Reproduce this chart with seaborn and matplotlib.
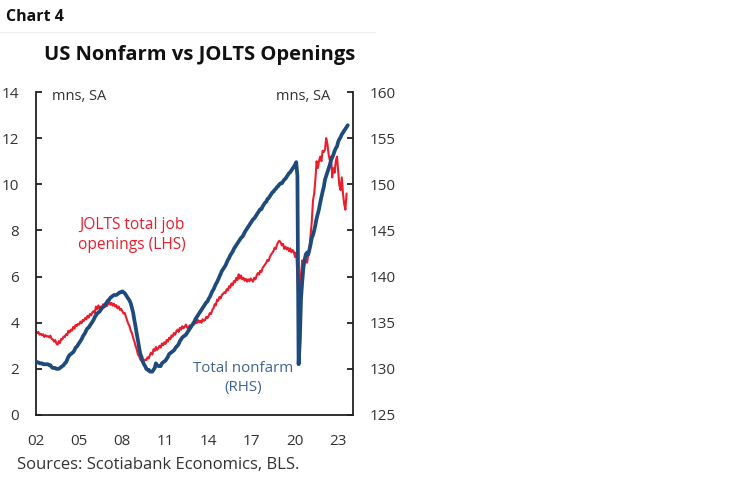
import matplotlib
matplotlib.use("Agg")
import matplotlib.pyplot as plt
import numpy as np
import pandas as pd
import seaborn as sns
from matplotlib.lines import Line2D

sns.set_style("white")
plt.rcParams['font.family'] = ['Open Sans', 'DejaVu Sans']

# --- datos (millones, mensual) ---
anios = list(range(2002, 2024))

nonfarm = {
    2002: [130.8, 130.7, 130.7, 130.6, 130.6, 130.6, 130.5, 130.5, 130.5, 130.5, 130.5, 130.4],
    2003: [130.4, 130.2, 130.1, 130.1, 130.1, 130.0, 130.0, 130.0, 130.1, 130.2, 130.3, 130.4],
    2004: [130.6, 130.7, 131.0, 131.3, 131.5, 131.6, 131.7, 131.8, 132.0, 132.3, 132.4, 132.6],
    2005: [132.8, 133.0, 133.2, 133.5, 133.7, 133.9, 134.2, 134.4, 134.5, 134.7, 134.9, 135.1],
    2006: [135.3, 135.6, 135.8, 136.0, 136.1, 136.2, 136.4, 136.6, 136.7, 136.8, 137.0, 137.2],
    2007: [137.4, 137.5, 137.7, 137.8, 137.9, 138.0, 138.0, 138.0, 138.1, 138.2, 138.3, 138.3],
    2008: [138.4, 138.3, 138.2, 138.0, 137.8, 137.6, 137.4, 137.1, 136.6, 136.1, 135.3, 134.6],
    2009: [133.8, 133.1, 132.3, 131.6, 131.3, 130.8, 130.5, 130.3, 130.0, 129.9, 129.9, 129.7],
    2010: [129.7, 129.7, 129.9, 130.1, 130.6, 130.4, 130.3, 130.3, 130.3, 130.6, 130.7, 130.8],
    2011: [130.9, 131.1, 131.3, 131.6, 131.7, 131.8, 131.9, 132.0, 132.2, 132.4, 132.5, 132.7],
    2012: [133.0, 133.2, 133.4, 133.5, 133.6, 133.7, 133.9, 134.1, 134.3, 134.5, 134.7, 134.9],
    2013: [135.1, 135.4, 135.6, 135.8, 136.0, 136.2, 136.4, 136.6, 136.8, 137.0, 137.2, 137.3],
    2014: [137.6, 137.8, 138.1, 138.4, 138.6, 138.9, 139.2, 139.4, 139.7, 140.0, 140.3, 140.6],
    2015: [140.8, 141.0, 141.2, 141.5, 141.8, 142.0, 142.3, 142.5, 142.7, 143.0, 143.2, 143.4],
    2016: [143.6, 143.8, 144.0, 144.2, 144.3, 144.5, 144.8, 145.0, 145.2, 145.4, 145.6, 145.8],
    2017: [146.0, 146.2, 146.3, 146.5, 146.7, 146.9, 147.1, 147.3, 147.3, 147.6, 147.8, 148.0],
    2018: [148.1, 148.4, 148.5, 148.7, 148.9, 149.1, 149.2, 149.4, 149.5, 149.7, 149.8, 150.0],
    2019: [150.1, 150.1, 150.3, 150.5, 150.6, 150.8, 151.0, 151.2, 151.3, 151.5, 151.7, 151.9],
    2020: [152.1, 152.4, 150.9, 130.5, 133.0, 137.6, 139.4, 141.0, 141.8, 142.4, 142.6, 142.4],
    2021: [142.9, 143.5, 144.2, 144.5, 145.0, 145.6, 146.3, 146.8, 147.3, 148.0, 148.6, 149.2],
    2022: [149.7, 150.5, 150.9, 151.3, 151.7, 152.1, 152.6, 152.9, 153.2, 153.6, 153.9, 154.1],
    2023: [154.6, 154.9, 155.1, 155.4, 155.6, 155.8, 156.0, 156.2, 156.4],
}

jolts = {
    2002: [3.62, 3.55, 3.60, 3.48, 3.52, 3.45, 3.50, 3.38, 3.46, 3.40, 3.42, 3.36],
    2003: [3.44, 3.30, 3.28, 3.18, 3.25, 3.10, 3.05, 3.20, 3.12, 3.30, 3.28, 3.40],
    2004: [3.38, 3.50, 3.46, 3.65, 3.58, 3.70, 3.66, 3.82, 3.74, 3.90, 3.86, 3.95],
    2005: [3.92, 4.05, 3.98, 4.12, 4.08, 4.20, 4.15, 4.30, 4.22, 4.38, 4.32, 4.45],
    2006: [4.50, 4.42, 4.70, 4.58, 4.75, 4.62, 4.70, 4.66, 4.80, 4.68, 4.85, 4.72],
    2007: [4.80, 4.92, 4.78, 4.86, 4.74, 4.82, 4.70, 4.76, 4.62, 4.70, 4.56, 4.60],
    2008: [4.50, 4.40, 4.42, 4.25, 4.10, 3.95, 3.85, 3.65, 3.55, 3.35, 3.20, 3.00],
    2009: [2.85, 2.62, 2.55, 2.40, 2.35, 2.28, 2.32, 2.40, 2.38, 2.50, 2.45, 2.60],
    2010: [2.70, 2.62, 2.85, 2.78, 2.95, 2.82, 2.90, 3.00, 2.92, 3.10, 3.02, 3.15],
    2011: [3.08, 3.25, 3.18, 3.35, 3.28, 3.45, 3.40, 3.55, 3.48, 3.62, 3.70, 3.60],
    2012: [3.78, 3.70, 3.85, 3.76, 3.82, 3.92, 3.80, 3.74, 3.88, 3.80, 3.86, 3.95],
    2013: [3.92, 4.05, 3.98, 4.12, 4.02, 4.08, 4.00, 4.15, 4.08, 4.12, 4.25, 4.20],
    2014: [4.30, 4.42, 4.38, 4.55, 4.62, 4.80, 4.75, 5.00, 4.95, 5.12, 5.05, 5.20],
    2015: [5.25, 5.32, 5.28, 5.45, 5.40, 5.58, 5.52, 5.70, 5.62, 5.80, 5.75, 5.95],
    2016: [5.85, 6.10, 5.92, 6.05, 5.88, 5.95, 5.82, 5.90, 5.78, 5.88, 5.80, 5.92],
    2017: [5.85, 5.78, 5.95, 5.88, 6.05, 6.15, 6.08, 6.25, 6.20, 6.38, 6.45, 6.52],
    2018: [6.60, 6.72, 6.68, 6.85, 6.95, 7.02, 7.10, 7.25, 7.20, 7.38, 7.50, 7.55],
    2019: [7.48, 7.35, 7.42, 7.20, 7.30, 7.18, 7.25, 7.10, 7.22, 7.05, 7.15, 7.08],
    2020: [6.85, 7.05, 6.00, 4.80, 5.50, 6.10, 6.70, 6.50, 6.60, 6.75, 6.60, 6.90],
    2021: [7.20, 7.80, 8.40, 9.30, 9.60, 10.20, 11.00, 10.70, 11.00, 11.20, 11.00, 11.45],
    2022: [11.40, 11.50, 12.00, 11.75, 11.30, 11.05, 11.20, 10.30, 10.70, 10.50, 11.00, 11.20],
    2023: [10.55, 9.95, 9.75, 10.30, 9.60, 9.15, 8.90, 9.60],
}

etiquetas_x = ['02', '05', '08', '11', '14', '17', '20', '23']
ticks_izq = [0, 2, 4, 6, 8, 10, 12, 14]
ticks_der = [125, 130, 135, 140, 145, 150, 155, 160]

ROJO = '#EC1C2B'
AZUL = '#1F4A7C'
TEXTO = '#333333'


def a_tabla(serie):
    filas = []
    for anio, valores in serie.items():
        for i, v in enumerate(valores):
            filas.append({'fecha': anio + i / 12.0, 'valor': v})
    return pd.DataFrame(filas)


df_nf = a_tabla(nonfarm)
df_jo = a_tabla(jolts)

W, H = 750, 482
fig = plt.figure(figsize=(W / 100, H / 100), dpi=100)
ax = fig.add_axes([36 / W, 1 - 415 / H, (353 - 36) / W, (415 - 92) / H])
ax2 = ax.twinx()

sns.lineplot(data=df_jo, x='fecha', y='valor', ax=ax, color=ROJO, linewidth=1.5)
sns.lineplot(data=df_nf, x='fecha', y='valor', ax=ax2, color=AZUL, linewidth=2.7)

ax.set_xlim(2002, 2024.03)
ax.set_ylim(0, 14)
ax2.set_ylim(125, 160)
ax.set_xticks([int('20' + e) for e in etiquetas_x])
ax.set_xticklabels(etiquetas_x)
ax.set_yticks(ticks_izq)
ax2.set_yticks(ticks_der)
ax.set_xlabel('')
ax.set_ylabel('')
ax2.set_ylabel('')

for a in (ax, ax2):
    for s in a.spines.values():
        s.set_visible(False)
ax.spines['left'].set_visible(True)
ax.spines['bottom'].set_visible(True)
ax2.spines['right'].set_visible(True)
for s in (ax.spines['left'], ax.spines['bottom'], ax2.spines['right']):
    s.set_color('#222222')
    s.set_linewidth(1.3)

ax.tick_params(axis='x', direction='out', length=5, width=1.3, color='#222222',
               pad=9, labelsize=11, labelcolor=TEXTO)
ax.tick_params(axis='y', direction='in', length=4, width=1.3, color='#222222',
               pad=12, labelsize=11, labelcolor=TEXTO)
ax2.tick_params(axis='y', direction='in', length=4, width=1.3, color='#222222',
                pad=12, labelsize=11, labelcolor=TEXTO)
ax.grid(False)
ax2.grid(False)

# textos
fig.text(6 / W, 1 - 17 / H, 'Chart 4', fontsize=11.5, fontweight='bold',
         color='#111111', va='center', ha='left')
fig.add_artist(Line2D([0, 375 / W], [1 - 32 / H, 1 - 32 / H], color='#eeeeee', lw=0.8))
fig.text(200 / W, 1 - 55 / H, 'US Nonfarm vs JOLTS Openings', fontsize=14.5,
         fontweight='bold', color='#111111', ha='center', va='center')
fig.text(52 / W, 1 - 96 / H, 'mns, SA', fontsize=10.5, color=TEXTO, ha='left', va='center')
fig.text(330 / W, 1 - 96 / H, 'mns, SA', fontsize=10.5, color=TEXTO, ha='right', va='center')
fig.text(132 / W, 1 - 235 / H, 'JOLTS total job\nopenings (LHS)', fontsize=11.2,
         color=ROJO, ha='center', va='center', linespacing=1.4)
fig.text(243 / W, 1 - 378 / H, 'Total nonfarm\n(RHS)', fontsize=10.8,
         color='#3E639A', ha='center', va='center', linespacing=1.45)
fig.text(17 / W, 1 - 465 / H, 'Sources: Scotiabank Economics, BLS.', fontsize=12,
         color=TEXTO, ha='left', va='center')

fig.savefig('out.png', dpi=100)
